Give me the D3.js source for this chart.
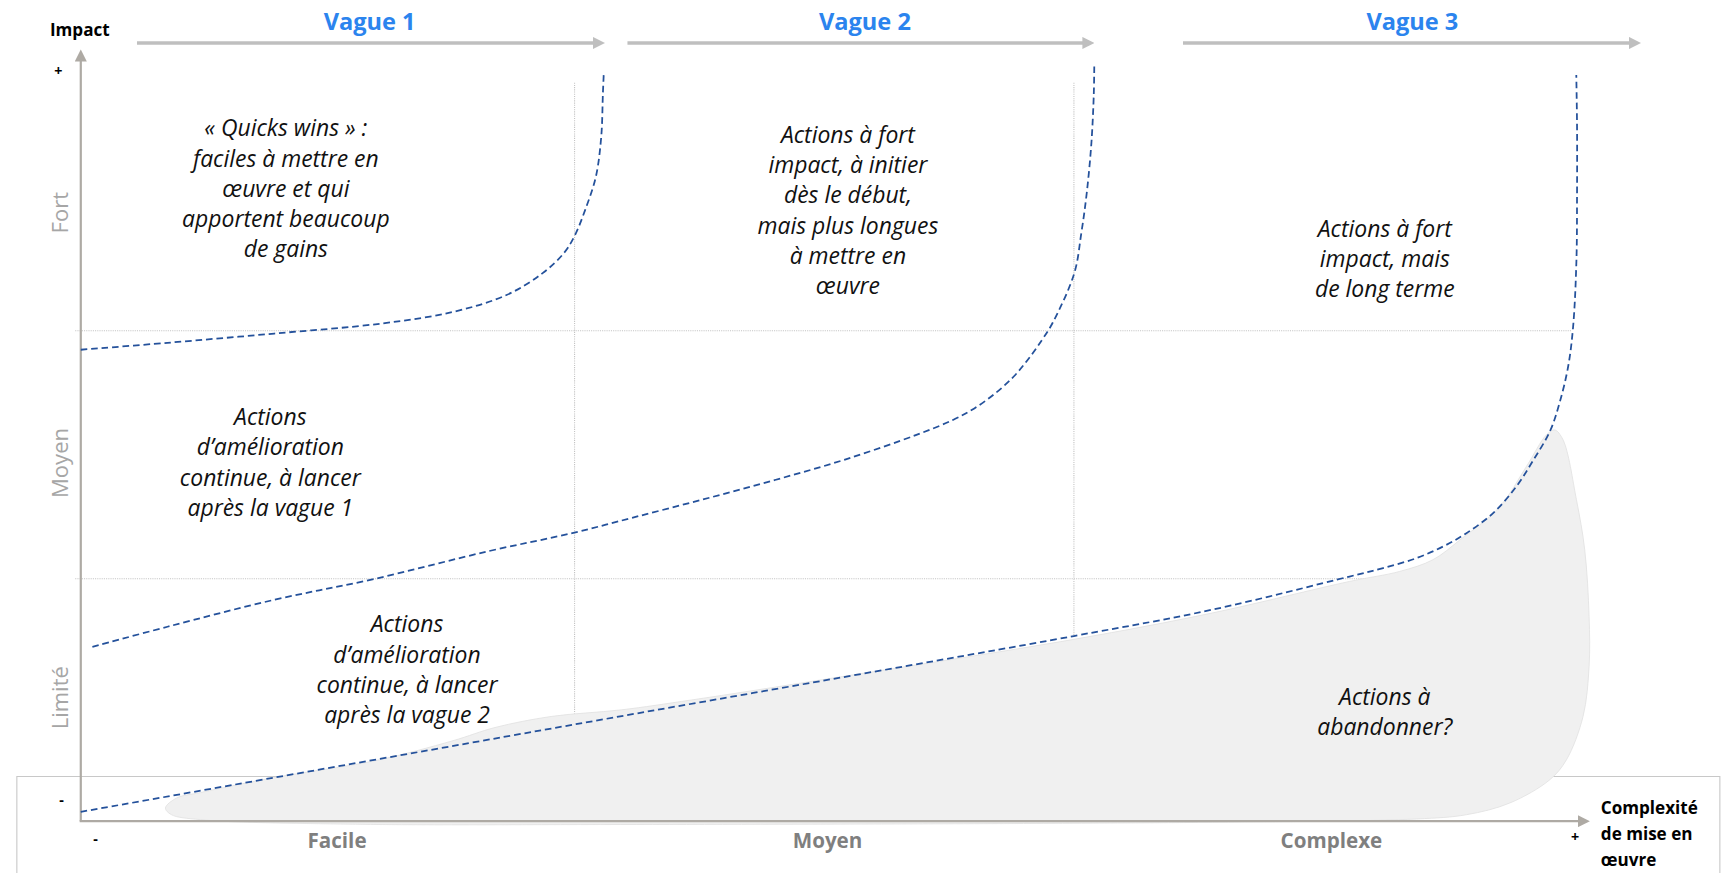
<!DOCTYPE html>
<html><head><meta charset="utf-8">
<script src="https://cdn.jsdelivr.net/npm/d3@7"></script>
<style>
html,body{margin:0;padding:0;background:#fff;overflow:hidden}
svg{display:block}
</style></head><body>
<svg id="chart" width="1729" height="873" viewBox="0 0 1568 792"></svg>
<script>
// ---------- DATA (x: complexité 0-100, y: impact 0-100) ----------
const xTickLabels = ["Facile", "Moyen", "Complexe"];
const xTickValues = [16.97, 49.52, 82.96];
const yTickLabels = ["Limité", "Moyen", "Fort"];
const yTickValues = [16.0, 46.43, 78.86];

const vagueLabels = ["Vague 1", "Vague 2", "Vague 3"];
const vagueStart = [3.73, 36.28, 73.15];
const vagueEnd = [34.75, 67.23, 103.51];
const vagueTitleX = [19.17, 52.04, 88.37];

const gridYValues = [63.57, 31.43];
const gridYEnd = [98.9, 89.7];
const gridXValues = [32.77, 65.91];
const gridXEnd = [13.86, 24.0];

const curveVague1 = [[0,61.1],[5.75,62.0],[12.85,63.2],[19.96,64.5],[24.70,66.0],[28.26,68.2],[30.63,71.0],[32.05,73.6],[32.76,75.8],[33.47,79.2],[34.18,83.5],[34.54,88.7],[34.65,94.3],[34.71,97.0]];
const curveVague2 = [[0.77,22.6],[5.75,25.2],[12.85,28.7],[19.49,31.4],[27.07,35.0],[32.76,37.4],[36.55,39.3],[41.29,41.7],[46.03,44.2],[50.77,46.9],[55.50,50.1],[57.88,52.0],[59.30,53.5],[60.72,55.5],[61.90,57.6],[62.85,59.8],[63.80,62.4],[64.50,64.6],[65.93,71.0],[66.40,76.2],[66.76,81.4],[67.07,87.9],[67.23,94.3],[67.26,97.8]];
const curveVague3 = [[0,1.21],[32.85,12.57],[65.91,24.0],[75.13,27.43],[84.20,31.71],[86.43,32.80],[88.65,34.10],[90.41,35.6],[91.96,37.33],[93.73,39.93],[95.27,43.37],[96.42,46.86],[97.51,50.57],[98.15,54.29],[98.71,58.93],[99.04,64.1],[99.26,72.74],[99.3,81.39],[99.3,90.01],[99.25,96.71]];

const abandonZone = [[5.62,1.71],[6.36,3.0],[7.94,3.71],[12.60,5.57],[19.58,7.86],[24.70,10.43],[27.49,12.14],[31.21,13.57],[35.87,14.43],[40.53,15.71],[49.52,18.43],[65.91,23.57],[75.13,27.0],[84.20,31.07],[87.53,32.37],[89.74,33.89],[91.51,36.43],[94.15,40.71],[95.94,45.97],[97.27,50.07],[97.81,50.71],[98.37,49.43],[99.26,41.66],[99.81,35.17],[100.10,26.53],[100.10,20.06],[99.70,13.59],[98.60,7.97],[97.49,5.37],[94.84,2.36],[91.96,0.84],[88.65,0.29],[75.13,-0.14],[35.84,-0.43],[17.26,-0.37],[7.94,0.2],[6.0,0.86]];

const annotationX = [13.61, 50.91, 86.54, 12.58, 21.65, 86.54];
const annotationY = [89.86, 89.0, 76.86, 52.43, 25.57, 16.14];
const annotationLines = [
  ["« Quicks wins » :", "faciles à mettre en", "œuvre et qui", "apportent beaucoup", "de gains"],
  ["Actions à fort", "impact, à initier", "dès le début,", "mais plus longues", "à mettre en", "œuvre"],
  ["Actions à fort", "impact, mais", "de long terme"],
  ["Actions", "d’amélioration", "continue, à lancer", "après la vague 1"],
  ["Actions", "d’amélioration", "continue, à lancer", "après la vague 2"],
  ["Actions à", "abandonner?"]
];
const xAxisTitleLines = ["Complexité", "de mise en", "œuvre"];
const yAxisTitle = "Impact";

// ---------- SCALES ----------
const x = d3.scaleLinear().domain([0, 100]).range([73, 1440]);
const y = d3.scaleLinear().domain([0, 100]).range([745, 45]);

const svg = d3.select("#chart");
svg.append("rect").attr("width", 1568).attr("height", 792).attr("fill", "#fff");

const FONT = "'Open Sans', 'DejaVu Sans', sans-serif";
const AXIS_COL = "#aeaaa4";
const CURVE_COL = "#24519b";

const defs = svg.append("defs");
function marker(id, color, size) {
  defs.append("marker").attr("id", id)
    .attr("viewBox", "0 0 10 10").attr("refX", 4).attr("refY", 5)
    .attr("markerWidth", size).attr("markerHeight", size)
    .attr("markerUnits", "userSpaceOnUse").attr("orient", "auto")
    .append("path").attr("d", "M0,0 L10,5 L0,10 Z").attr("fill", color);
}
marker("axisArrow", AXIS_COL, 11);
marker("vagueArrow", "#bfbfbf", 11);

// bottom frame
svg.append("path")
  .attr("d", `M15,${792} L15,704.5 L1560,704.5 L1560,${792}`)
  .attr("fill", "none").attr("stroke", "#c8c8c8").attr("stroke-width", 1);

// grid lines
svg.append("g").selectAll("line").data(gridYValues).join("line")
  .attr("x1", x(-0.37)).attr("x2", (d, i) => x(gridYEnd[i]))
  .attr("y1", d => y(d)).attr("y2", d => y(d))
  .attr("stroke", "#c4c4c4").attr("stroke-width", 1).attr("stroke-dasharray", "1,1");
svg.append("g").selectAll("line").data(gridXValues).join("line")
  .attr("x1", d => x(d)).attr("x2", d => x(d))
  .attr("y1", y(95.71)).attr("y2", (d, i) => y(gridXEnd[i]))
  .attr("stroke", "#c4c4c4").attr("stroke-width", 1).attr("stroke-dasharray", "1,1");

// abandon zone blob
svg.append("path").datum(abandonZone)
  .attr("d", d3.line().x(d => x(d[0])).y(d => y(d[1])).curve(d3.curveCatmullRomClosed.alpha(0.5)))
  .attr("fill", "#f0f0f0").attr("stroke", "#e3e3e3").attr("stroke-width", 0.8);

// axes
svg.append("line").attr("x1", x(0)).attr("y1", y(0)).attr("x2", x(0)).attr("y2", 51.5)
  .attr("stroke", AXIS_COL).attr("stroke-width", 2).attr("marker-end", "url(#axisArrow)");
svg.append("line").attr("x1", x(0) - 1).attr("y1", y(0)).attr("x2", 1435.5).attr("y2", y(0))
  .attr("stroke", AXIS_COL).attr("stroke-width", 2).attr("marker-end", "url(#axisArrow)");

// x tick labels via d3 axis
const xAxisG = svg.append("g").attr("transform", `translate(0,${y(0)})`)
  .call(d3.axisBottom(x).tickValues(xTickValues).tickFormat((d, i) => xTickLabels[i]).tickSize(0));
xAxisG.select(".domain").remove();
xAxisG.selectAll("text").attr("dy", null).attr("y", 17.5).attr("dominant-baseline", "central")
  .attr("font-family", FONT).attr("font-weight", "bold").attr("font-size", 18.7).attr("fill", "#7f7f7f");

// y labels rotated
svg.append("g").selectAll("text").data(yTickValues).join("text")
  .attr("transform", d => `translate(53,${y(d)}) rotate(-90)`)
  .attr("text-anchor", "middle").attr("dominant-baseline", "central")
  .attr("font-family", FONT).attr("font-size", 20).attr("fill", "#a6a6a6")
  .text((d, i) => yTickLabels[i]);

// +/- signs
const signs = [[52.6, 64, "+"], [55.5, 725, "-"], [86.5, 760.5, "-"], [1428.6, 759, "+"]];
svg.append("g").selectAll("text").data(signs).join("text")
  .attr("x", d => d[0]).attr("y", d => d[1]).attr("text-anchor", "middle").attr("dominant-baseline", "central")
  .attr("font-family", FONT).attr("font-weight", "bold").attr("font-size", 13).attr("fill", "#000")
  .text(d => d[2]);

// axis titles
svg.append("text").attr("x", 45).attr("y", 33).attr("font-family", FONT).attr("font-weight", "bold")
  .attr("font-size", 15.5).attr("fill", "#000").text(yAxisTitle);
svg.append("text").attr("font-family", FONT).attr("font-weight", "bold").attr("font-size", 15.5).attr("fill", "#000")
  .selectAll("tspan").data(xAxisTitleLines).join("tspan")
  .attr("x", 1452).attr("y", (d, i) => 733 + i * 23.5).attr("dominant-baseline", "central").text(d => d);

// vague arrows + titles
svg.append("g").selectAll("line").data(vagueLabels).join("line")
  .attr("x1", (d, i) => x(vagueStart[i])).attr("x2", (d, i) => x(vagueEnd[i]) - 6)
  .attr("y1", 39).attr("y2", 39)
  .attr("stroke", "#bfbfbf").attr("stroke-width", 3).attr("marker-end", "url(#vagueArrow)");
svg.append("g").selectAll("text").data(vagueLabels).join("text")
  .attr("x", (d, i) => x(vagueTitleX[i])).attr("y", 27).attr("text-anchor", "middle")
  .attr("font-family", FONT).attr("font-weight", "bold").attr("font-size", 21.4).attr("fill", "#2b84ee")
  .text(d => d);

// dashed curves
const lineGen = d3.line().x(d => x(d[0])).y(d => y(d[1])).curve(d3.curveCatmullRom.alpha(0.5));
svg.append("g").selectAll("path").data([curveVague1, curveVague2, curveVague3]).join("path")
  .attr("d", lineGen).attr("fill", "none").attr("stroke", CURVE_COL)
  .attr("stroke-width", 1.6).attr("stroke-dasharray", "6,3.5");

// annotations
const ann = svg.append("g");
annotationLines.forEach((lines, i) => {
  const t = ann.append("text").attr("text-anchor", "middle")
    .attr("font-family", FONT).attr("font-style", "italic").attr("font-size", 20.8).attr("fill", "#111");
  t.selectAll("tspan").data(lines).join("tspan")
    .attr("x", x(annotationX[i])).attr("y", (d, k) => y(annotationY[i]) + k * 27.4)
    .attr("dominant-baseline", "central").text(d => d);
});
</script></body></html>
